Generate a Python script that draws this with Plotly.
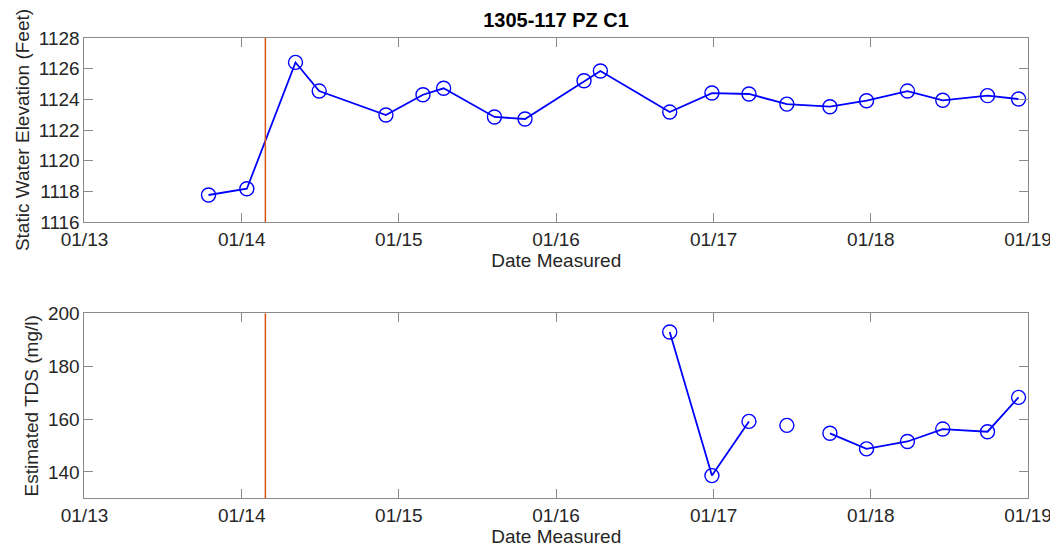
import pandas as pd
import plotly.graph_objects as go
from plotly.subplots import make_subplots

# data
swe_dates = ["2013-10-16", "2014-01-13", "2014-05-06", "2014-06-30", "2014-12-02",
             "2015-02-26", "2015-04-15", "2015-08-11", "2015-10-21", "2016-03-06",
             "2016-04-13", "2016-09-21", "2016-12-28", "2017-03-24", "2017-06-20",
             "2017-09-28", "2017-12-22", "2018-03-27", "2018-06-17", "2018-09-29",
             "2018-12-10"]
swe_values = [1117.76, 1118.17, 1126.41, 1124.54, 1122.98,
              1124.30, 1124.72, 1122.85, 1122.72, 1125.21,
              1125.85, 1123.17, 1124.41, 1124.35, 1123.69,
              1123.52, 1123.91, 1124.54, 1123.94, 1124.24,
              1124.02]

# None entries break the line like NaN rows do
tds_dates = ["2016-09-21", "2016-12-28", "2017-03-24", "2017-05-05", "2017-06-20",
             "2017-08-10", "2017-09-28", "2017-12-22", "2018-03-27", "2018-06-17",
             "2018-09-29", "2018-12-10"]
tds_values = [192.9, 138.6, 159.1, None, 157.6,
              None, 154.6, 148.7, 151.5, 156.2,
              155.2, 168.2]

event_date = "2014-02-25"
x_ticks = ["2013-01-01", "2014-01-01", "2015-01-01", "2016-01-01",
           "2017-01-01", "2018-01-01", "2019-01-01"]
x_tick_labels = ["01/13", "01/14", "01/15", "01/16", "01/17", "01/18", "01/19"]

FONT = "Liberation Sans, Arial, Helvetica, sans-serif"
TXT = "#262626"
AX = "#8a8a8a"
BLUE = "#0000ff"
RED = "#D95319"
FS = 19

fig = make_subplots(rows=2, cols=1)

marker = dict(symbol="circle-open", size=14, color=BLUE, line=dict(width=1.4, color=BLUE))
fig.add_trace(go.Scatter(x=pd.to_datetime(swe_dates), y=swe_values, mode="lines+markers",
                         line=dict(color=BLUE, width=1.8), marker=marker, showlegend=False),
              row=1, col=1)
fig.add_trace(go.Scatter(x=pd.to_datetime(tds_dates), y=tds_values, mode="lines+markers",
                         line=dict(color=BLUE, width=1.8), marker=marker, showlegend=False,
                         connectgaps=False),
              row=2, col=1)

for yref in ["y domain", "y2 domain"]:
    xref = "x" if yref == "y domain" else "x2"
    fig.add_shape(type="line", x0=event_date, x1=event_date, y0=0, y1=1,
                  xref=xref, yref=yref, line=dict(color=RED, width=1.5), layer="above")

xaxis_style = dict(range=["2013-01-01", "2019-01-01"], tickvals=x_ticks, ticktext=x_tick_labels,
                   ticks="inside", ticklen=9, tickcolor=AX, showline=True, linecolor=AX,
                   linewidth=1, mirror="ticks", showgrid=False, zeroline=False, automargin=False,
                   tickfont=dict(size=FS, color=TXT, family=FONT),
                   title=dict(text="Date Measured", font=dict(size=FS, color=TXT, family=FONT),
                              standoff=0))
yaxis_style = dict(ticks="inside", ticklen=9, tickcolor=AX, showline=True, linecolor=AX,
                   linewidth=1, mirror="ticks", showgrid=False, zeroline=False, automargin=False,
                   tickfont=dict(size=FS, color=TXT, family=FONT))

# page body adds an 8px offset, so domains are shifted to compensate
fig.update_layout(
    width=1058, height=557,
    paper_bgcolor="white", plot_bgcolor="white",
    margin=dict(l=0, r=0, t=0, b=0),
    title=dict(text="<b>1305-117 PZ C1</b>", x=0.518, xanchor="center", y=0.9785, yanchor="middle",
               font=dict(size=20, color="black", family=FONT)),
    xaxis=dict(domain=[0.0723, 0.9641], anchor="y", **xaxis_style),
    xaxis2=dict(domain=[0.0723, 0.9641], anchor="y2", **xaxis_style),
    yaxis=dict(domain=[0.6158, 0.9461], range=[1116, 1128], dtick=2, anchor="x",
               title=dict(text="Static Water Elevation (Feet)",
                          font=dict(size=FS, color=TXT, family=FONT), standoff=4),
               **yaxis_style),
    yaxis2=dict(domain=[0.1197, 0.4519], range=[130, 200], tickvals=[140, 160, 180, 200], anchor="x2",
                title=dict(text="Estimated TDS (mg/l)",
                           font=dict(size=FS, color=TXT, family=FONT), standoff=4),
                **yaxis_style),
)

fig.write_html("out.html")
